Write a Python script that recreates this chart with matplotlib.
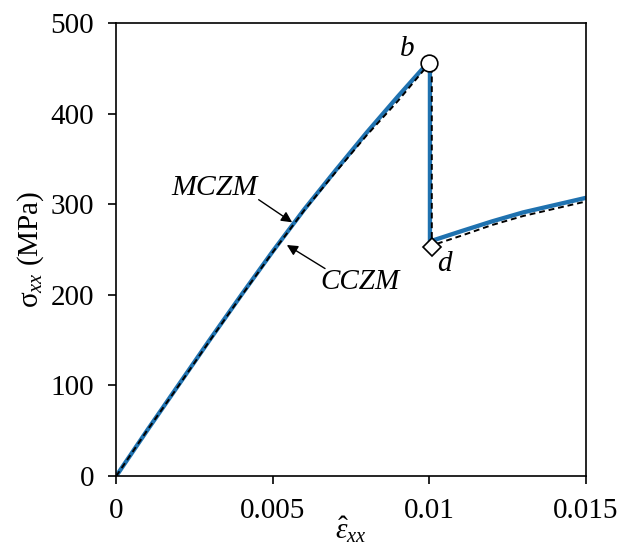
import numpy as np
import matplotlib
matplotlib.use('Agg')
import matplotlib.pyplot as plt

plt.rcParams['font.family'] = ['Liberation Serif']
plt.rcParams['mathtext.fontset'] = 'custom'
plt.rcParams['mathtext.rm'] = 'Liberation Serif'
plt.rcParams['mathtext.it'] = 'Liberation Serif:italic'

# MCZM response (strain, stress in MPa)
mczm_strain = [0.0, 0.001, 0.002, 0.003, 0.004, 0.005, 0.006, 0.007, 0.008, 0.009, 0.0098, 0.01,
               0.01002, 0.01002, 0.0102, 0.011, 0.012, 0.013, 0.014, 0.015]
mczm_stress = [0, 51, 101, 151, 200, 248, 294, 337, 379, 419, 450, 457,
               457, 259, 261, 270, 281, 291, 299, 307]

# CCZM response
cczm_strain = [0.0, 0.001, 0.002, 0.003, 0.004, 0.005, 0.006, 0.007, 0.008, 0.009, 0.0098, 0.01005,
               0.01008, 0.01008, 0.0103, 0.011, 0.012, 0.013, 0.014, 0.015]
cczm_stress = [0, 51, 100, 150, 199, 247, 293, 335, 376, 414, 447, 456,
               456, 254, 257, 265, 277, 287, 295, 303]

peak = (0.01, 456)
drop = (0.0101, 253)

fig = plt.figure(figsize=(6.18, 5.46), dpi=100)
ax = fig.add_axes([0.188, 0.128, 0.760, 0.830])

ax.plot(mczm_strain, mczm_stress, color='#1f72b0', lw=3.1, zorder=2)
ax.plot(cczm_strain, cczm_stress, color='black', lw=1.4, ls=(0, (3, 2)), zorder=3)

ax.plot(*peak, marker='o', ms=12, mfc='white', mec='black', mew=1.2, zorder=5)
ax.plot(*drop, marker='D', ms=9, mfc='white', mec='black', mew=1.2, zorder=5)
ax.text(0.00929, 471, 'b', fontsize=21, style='italic', ha='center', va='center')
ax.text(0.01047, 234, 'd', fontsize=21, style='italic', ha='center', va='center')

# curve labels with pointer arrows
ax.text(0.00177, 318, 'MCZM', fontsize=21.5, style='italic', ha='left', va='center')
ax.text(0.00651, 214, 'CCZM', fontsize=21, style='italic', ha='left', va='center')
arrow = dict(arrowstyle='-|>', color='black', lw=1.0, mutation_scale=16, shrinkA=0, shrinkB=0)
ax.annotate('', xy=(0.00562, 280), xytext=(0.00455, 305), arrowprops=arrow)
ax.annotate('', xy=(0.00545, 255), xytext=(0.00667, 229), arrowprops=arrow)

ax.set_xlim(0, 0.015)
ax.set_ylim(0, 500)
ax.set_xticks([0, 0.005, 0.01, 0.015])
ax.set_xticklabels(['0', '0.005', '0.01', '0.015'])
ax.set_yticks([0, 100, 200, 300, 400, 500])
ax.tick_params(direction='out', length=6, width=1.2, labelsize=21, pad=10)
ax.tick_params(top=False, right=False)
for s in ax.spines.values():
    s.set_linewidth(1.2)

ax.set_xlabel(r'$\hat{\varepsilon}_{xx}$', fontsize=21, va='center')
ax.xaxis.set_label_coords(0.5, -0.118)
ax.set_ylabel(r'$\mathrm{\sigma}_{xx}$ (MPa)', fontsize=21, va='center')
ax.yaxis.set_label_coords(-0.182, 0.50)

fig.savefig('out.png', dpi=100)
